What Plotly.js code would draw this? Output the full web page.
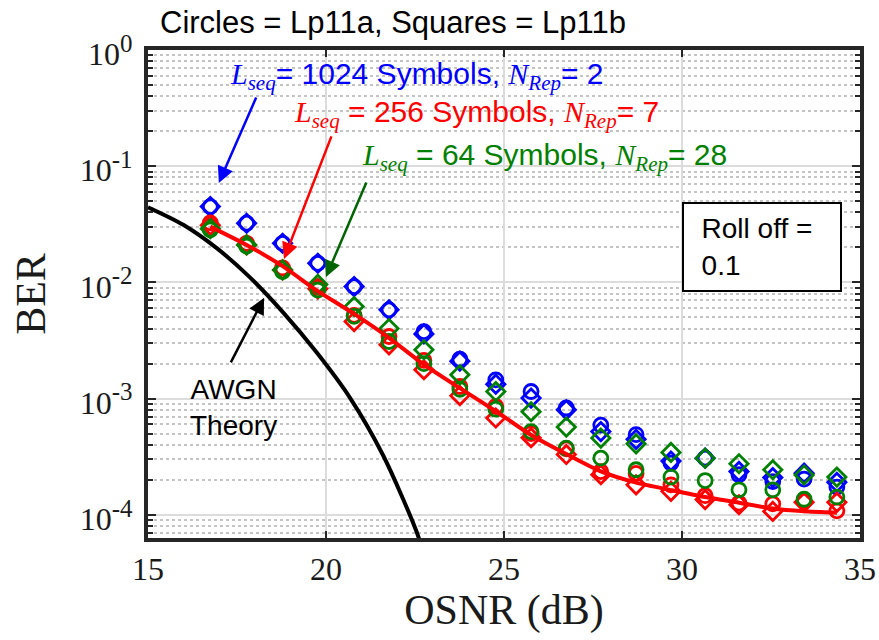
<!DOCTYPE html>
<html>
<head>
<meta charset="utf-8">
<script src="https://cdn.plot.ly/plotly-3.0.1.min.js"></script>
<style>html,body{margin:0;padding:0;background:#fff;}</style>
</head>
<body>
<div id="chart" style="width:879px;height:640px;"></div>
<script>
// ---- data ----
var osnr = [16.75, 17.77, 18.78, 19.77, 20.79, 21.77, 22.75, 23.76, 24.77, 25.76, 26.75, 27.72, 28.71, 29.69, 30.65, 31.6, 32.55, 33.43, 34.35];

var ber1024a = [0.0449, 0.0323, 0.0217, 0.0146, 0.0092, 0.0058, 0.00377, 0.00218, 0.00145, 0.00115, 0.00083, 0.00059, 0.00049, 0.000278, 0.000307, 0.000221, 0.000193, 0.000203, 0.000173];
var ber1024b = [0.0449, 0.0323, 0.0217, 0.0146, 0.0092, 0.0058, 0.0036, 0.0021, 0.00133, 0.00101, 0.0008, 0.00052, 0.000446, 0.00029, 0.000307, 0.000236, 0.000209, 0.000228, 0.00019];
var ber256a = [0.0325, 0.0217, 0.0133, 0.0092, 0.0052, 0.00342, 0.00213, 0.00127, 0.000855, 0.0005, 0.00037, 0.000235, 0.000227, 0.000181, 0.000146, 0.000126, 0.000124, 0.000131, 0.000108];
var ber256b = [0.031, 0.021, 0.0128, 0.0088, 0.0046, 0.0029, 0.00177, 0.00106, 0.00068, 0.00046, 0.00033, 0.000221, 0.000181, 0.000159, 0.000135, 0.000122, 0.000107, 0.000128, 0.000128];
var ber64a = [0.0283, 0.0205, 0.0124, 0.0086, 0.0051, 0.0031, 0.0020, 0.0012, 0.00081, 0.00052, 0.000374, 0.000307, 0.000244, 0.000211, 0.000197, 0.000164, 0.000164, 0.000136, 0.000142];
var ber64b = [0.029, 0.021, 0.0128, 0.0096, 0.0062, 0.0040, 0.00263, 0.0016, 0.00115, 0.00077, 0.000568, 0.000457, 0.000408, 0.000344, 0.000307, 0.000275, 0.000244, 0.00022, 0.000211];
var berFit256 = [0.0302, 0.021, 0.0138, 0.0084, 0.00535, 0.00333, 0.00196, 0.00123, 0.000778, 0.000486, 0.000333, 0.000236, 0.000189, 0.000163, 0.000142, 0.000127, 0.000113, 0.000107, 0.000104];

var osnrTheory = [15.0, 15.99, 16.93, 17.87, 18.8, 19.74, 20.67, 21.61, 22.55, 22.8];
var berTheory = [0.0443, 0.0313, 0.0197, 0.0110, 0.0055, 0.00249, 0.00102, 0.000322, 0.0000707, 0.00004];

var xTicks = [15, 20, 25, 30, 35];
var yTicks = [1e-4, 1e-3, 1e-2, 1e-1, 1];
var yExp = ['-4', '-3', '-2', '-1', '0'];
var yTickText = yExp.map(function (e) { return '10<sup><span style="font-size:25px">' + e + '</span></sup>'; });

var BLUE = '#0000ff', RED = '#ff0000', GREEN = '#008000';
var MS = 14, MW = 2.8;

function mk(y, color, sym) {
  return {x: osnr, y: y, type: 'scatter', mode: 'markers',
    marker: {symbol: sym, size: MS, color: color, line: {width: MW, color: color}},
    showlegend: false, hoverinfo: 'skip'};
}

var traces = [
  mk(ber1024a, BLUE, 'circle-open'),
  mk(ber1024b, BLUE, 'diamond-open'),
  mk(ber256a, RED, 'circle-open'),
  mk(ber256b, RED, 'diamond-open'),
  mk(ber64a, GREEN, 'circle-open'),
  mk(ber64b, GREEN, 'diamond-open'),
  {x: osnr, y: berFit256, type: 'scatter', mode: 'lines', line: {color: RED, width: 4, shape: 'spline', smoothing: 0.6}, showlegend: false, hoverinfo: 'skip'},
  {x: osnrTheory, y: berTheory, type: 'scatter', mode: 'lines', line: {color: '#000000', width: 4, shape: 'spline', smoothing: 0.8}, showlegend: false, hoverinfo: 'skip'}
];

var SERIF = 'Liberation Serif, Times New Roman, serif';
var SANS = 'Liberation Sans, Arial, sans-serif';
var AX = '#262626';

function mathTxt(s) { return '<i><span style="font-family:Liberation Serif">' + s + '</span></i>'; }
function subTxt(s) { return '<sub><i><span style="font-family:Liberation Serif">' + s + '</span></i></sub>'; }

var annotations = [
  {xref: 'paper', yref: 'paper', x: 0.112, y: 0.947, xanchor: 'left', yanchor: 'middle', showarrow: false,
   text: mathTxt('L') + subTxt('seq') + '= 1024 Symbols, ' + mathTxt('N') + subTxt('Rep') + '= 2',
   font: {family: SANS, size: 30, color: BLUE}},
  {xref: 'paper', yref: 'paper', x: 0.202, y: 0.869, xanchor: 'left', yanchor: 'middle', showarrow: false,
   text: mathTxt('L') + subTxt('seq') + ' = 256 Symbols, ' + mathTxt('N') + subTxt('Rep') + '= 7',
   font: {family: SANS, size: 30, color: RED}},
  {xref: 'paper', yref: 'paper', x: 0.298, y: 0.781, xanchor: 'left', yanchor: 'middle', showarrow: false,
   text: mathTxt('L') + subTxt('seq') + ' = 64 Symbols, ' + mathTxt('N') + subTxt('Rep') + '= 28',
   font: {family: SANS, size: 30, color: GREEN}},
  // arrows
  {xref: 'x', yref: 'y', x: 16.99, y: -1.144, ax: 38, ay: -87, text: '', showarrow: true,
   arrowhead: 2, arrowsize: 1.3, arrowwidth: 2.5, arrowcolor: BLUE},
  {xref: 'x', yref: 'y', x: 18.82, y: -1.798, ax: 48, ay: -124, text: '', showarrow: true,
   arrowhead: 2, arrowsize: 1.3, arrowwidth: 2.5, arrowcolor: RED},
  {xref: 'x', yref: 'y', x: 20.0, y: -1.953, ax: 41, ay: -96, text: '', showarrow: true,
   arrowhead: 2, arrowsize: 1.3, arrowwidth: 2.5, arrowcolor: '#006400'},
  {xref: 'x', yref: 'y', x: 18.26, y: -2.133, ax: -34, ay: 66, text: '', showarrow: true,
   arrowhead: 2, arrowsize: 1.3, arrowwidth: 2.5, arrowcolor: '#000000'},
  // AWGN label
  {xref: 'paper', yref: 'paper', x: 0.1194, y: 0.2674, xanchor: 'center', yanchor: 'middle', showarrow: false,
   text: 'AWGN<br>Theory', align: 'center', font: {family: SANS, size: 28, color: '#000000'}},
  // Roll off box
  {xref: 'paper', yref: 'paper', x: 0.75, y: 0.6885, xanchor: 'left', yanchor: 'top', showarrow: false,
   text: '\u00a0\u00a0Roll off =<br>\u00a0\u00a00.1', align: 'left', valign: 'middle',
   width: 152, height: 82, borderpad: 2, borderwidth: 2, bordercolor: '#000000', bgcolor: '#ffffff',
   font: {family: SANS, size: 28, color: '#000000'}}
];

var layout = {
  width: 879, height: 640,
  margin: {l: 148, r: 19, t: 50, b: 102, pad: 0},
  paper_bgcolor: '#ffffff', plot_bgcolor: '#ffffff',
  showlegend: false,
  title: {text: 'Circles = Lp11a, Squares = Lp11b', x: 160 / 879, xanchor: 'left', xref: 'container',
          y: 1 - 22 / 640, yanchor: 'middle', yref: 'container',
          font: {family: SANS, size: 31, color: '#000000'}},
  xaxis: {
    range: [15, 35], tickmode: 'array', tickvals: xTicks,
    ticks: 'inside', ticklen: 7, tickwidth: 2, tickcolor: AX,
    showline: true, linewidth: 4, linecolor: AX, mirror: 'ticks',
    showgrid: true, gridcolor: '#dcdcdc', gridwidth: 2, zeroline: false,
    tickfont: {family: SERIF, size: 32, color: '#1a1a1a'},
    ticklabelstandoff: 0,
    title: {text: 'OSNR (dB)', font: {family: SERIF, size: 42, color: '#1a1a1a'}, standoff: 8},
    automargin: false
  },
  yaxis: {
    type: 'log', range: [-4.2, 0], tickmode: 'array', tickvals: yTicks, ticktext: yTickText,
    ticks: 'inside', ticklen: 8, tickwidth: 2, tickcolor: AX,
    showline: true, linewidth: 4, linecolor: AX, mirror: 'ticks',
    showgrid: true, gridcolor: '#dcdcdc', gridwidth: 2, zeroline: false,
    minor: {dtick: 'D1', ticks: 'inside', ticklen: 5, tickwidth: 2, tickcolor: AX,
            showgrid: true, gridcolor: '#c4c4c4', gridwidth: 2, griddash: 'dot'},
    tickfont: {family: SERIF, size: 32, color: '#1a1a1a'},
    ticklabelstandoff: 5,
    ticklabelshift: 4,
    title: {text: 'BER', font: {family: SERIF, size: 42, color: '#1a1a1a'}, standoff: 22},
    automargin: false
  },
  annotations: annotations
};

Plotly.newPlot('chart', traces, layout, {staticPlot: true, displayModeBar: false});
</script>
</body>
</html>
